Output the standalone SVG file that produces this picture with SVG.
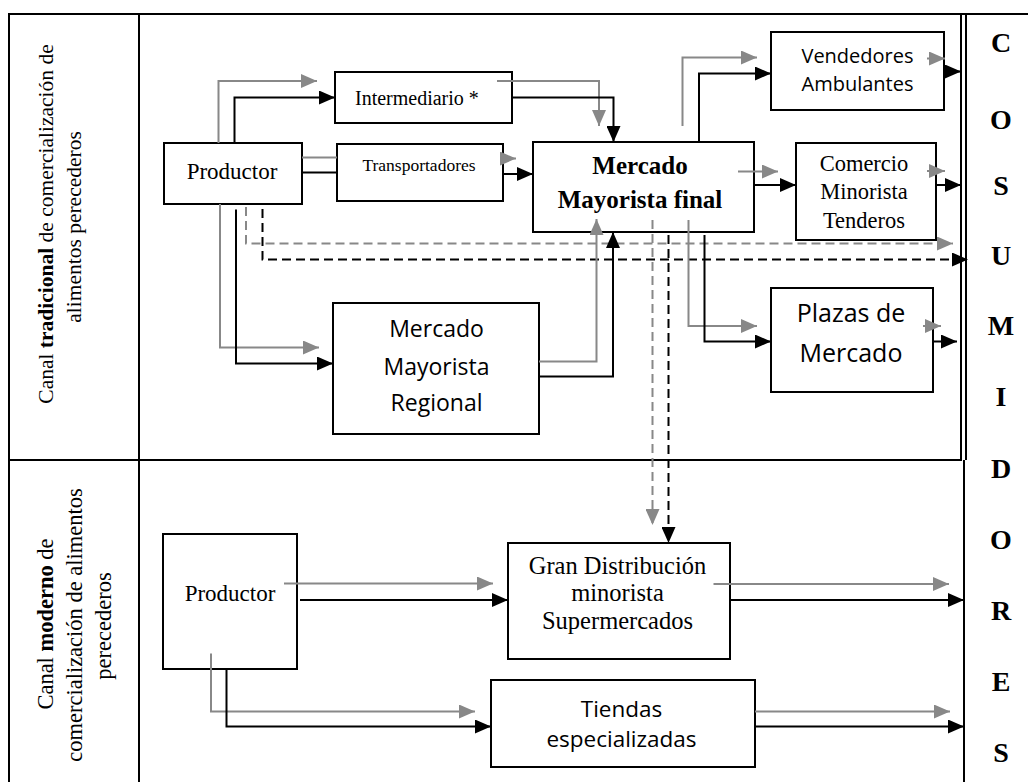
<svg xmlns="http://www.w3.org/2000/svg" width="1028" height="782" viewBox="0 0 1028 782">
  <style>
    .frame { stroke: #000; stroke-width: 2; fill: none; }
    .box { fill: #fff; stroke: #000; stroke-width: 2; }
    .serif { font-family: "Liberation Serif", "Times New Roman", serif; fill: #000; }
    .sans { font-family: "Open Sans", "Liberation Sans", sans-serif; fill: #000; }
    .mid { text-anchor: middle; }
    .blk { stroke: #000; stroke-width: 2; fill: none; marker-end: url(#arrBlack); }
    .gry { stroke: #888; stroke-width: 2; fill: none; marker-end: url(#arrGray); }
    .plainBlk { stroke: #000; stroke-width: 2; fill: none; }
    .plainGry { stroke: #888; stroke-width: 2; fill: none; }
    .dash { stroke-dasharray: 9 5; }
    .cons { font-family: "Liberation Serif", "Times New Roman", serif; font-weight: bold; font-size: 28px; text-anchor: middle; }
  </style>
  <defs>
    <marker id="arrBlack" markerUnits="userSpaceOnUse" markerWidth="16" markerHeight="14" refX="16" refY="7" orient="auto">
      <path d="M0,0 L16,7 L0,14 z" fill="#000"/>
    </marker>
    <marker id="arrGray" markerUnits="userSpaceOnUse" markerWidth="16" markerHeight="14" refX="16" refY="7" orient="auto">
      <path d="M0,0 L16,7 L0,14 z" fill="#888"/>
    </marker>
  </defs>

  <rect width="1028" height="782" fill="#fff"/>

  <!-- table frame -->
  <g id="frame">
    <path class="frame" d="M9,782 V14 H1028"/>
    <path class="frame" d="M139,14 V782"/>
    <path class="frame" d="M9,460 H962"/>
    <path class="frame" d="M961,14 V460" stroke-width="1.5"/>
    <path class="frame" d="M966,14 V460" stroke-width="1.5"/>
    <path class="frame" d="M964,460 V782" stroke-width="3"/>
  </g>

  <!-- row labels -->
  <g id="label-tradicional" class="serif mid" font-size="21.5">
    <text transform="translate(53,224) rotate(-90)">Canal <tspan font-weight="bold">tradicional</tspan> de comercialización de</text>
    <text transform="translate(81,227) rotate(-90)">alimentos perecederos</text>
  </g>
  <g id="label-moderno" class="serif mid" font-size="22.5">
    <text transform="translate(53,624) rotate(-90)">Canal <tspan font-weight="bold">moderno</tspan> de</text>
    <text transform="translate(82,625) rotate(-90)">comercialización de alimentos</text>
    <text transform="translate(111,626) rotate(-90)">perecederos</text>
  </g>

  <!-- consumers column -->
  <g id="consumidores" class="cons">
    <text x="1001" y="52">C</text>
    <text x="1001" y="129">O</text>
    <text x="1001" y="195">S</text>
    <text x="1001" y="265">U</text>
    <text x="1001" y="335">M</text>
    <text x="1001" y="406">I</text>
    <text x="1001" y="478">D</text>
    <text x="1001" y="549">O</text>
    <text x="1001" y="620">R</text>
    <text x="1001" y="691">E</text>
    <text x="1001" y="762">S</text>
  </g>

  <!-- traditional channel nodes -->
  <g id="productor-tradicional">
    <rect class="box" x="164" y="143" width="138" height="61"/>
    <text class="serif mid" x="232" y="179" font-size="23">Productor</text>
  </g>
  <g id="intermediario">
    <rect class="box" x="335" y="72" width="177" height="51"/>
    <text class="serif" x="355" y="105" font-size="20">Intermediario *</text>
  </g>
  <g id="transportadores">
    <rect class="box" x="337" y="144" width="166" height="57"/>
    <text class="serif mid" x="419" y="171" font-size="17.5">Transportadores</text>
  </g>
  <g id="mercado-mayorista-final">
    <rect class="box" x="533" y="142" width="221" height="90"/>
    <text class="serif mid" x="640" y="174" font-size="25" font-weight="bold">Mercado</text>
    <text class="serif mid" x="640" y="208" font-size="25" font-weight="bold">Mayorista final</text>
  </g>
  <g id="vendedores-ambulantes">
    <rect class="box" x="771" y="32" width="173" height="78"/>
    <text class="sans mid" x="857.5" y="63" font-size="20">Vendedores</text>
    <text class="sans mid" x="857.5" y="91" font-size="20">Ambulantes</text>
  </g>
  <g id="comercio-minorista">
    <rect class="box" x="796" y="143" width="140" height="97"/>
    <text class="serif mid" x="864" y="171" font-size="22.5">Comercio</text>
    <text class="serif mid" x="864" y="199" font-size="22.5">Minorista</text>
    <text class="serif mid" x="864" y="228" font-size="22.5">Tenderos</text>
  </g>
  <g id="plazas-de-mercado">
    <rect class="box" x="771" y="288" width="162" height="104"/>
    <text class="sans mid" x="851" y="322" font-size="25">Plazas de</text>
    <text class="sans mid" x="851" y="362" font-size="25">Mercado</text>
  </g>
  <g id="mercado-mayorista-regional">
    <rect class="box" x="333" y="303" width="206" height="131"/>
    <text class="sans mid" x="436.5" y="337" font-size="23">Mercado</text>
    <text class="sans mid" x="436.5" y="375" font-size="23">Mayorista</text>
    <text class="sans mid" x="436.5" y="411" font-size="23">Regional</text>
  </g>

  <!-- modern channel nodes -->
  <g id="productor-moderno">
    <rect class="box" x="163" y="534" width="134" height="135"/>
    <text class="serif mid" x="230" y="601" font-size="23">Productor</text>
  </g>
  <g id="gran-distribucion">
    <rect class="box" x="508" y="543" width="222" height="116"/>
    <text class="serif mid" x="617.5" y="574" font-size="24.5">Gran Distribución</text>
    <text class="serif mid" x="617.5" y="601" font-size="24.5">minorista</text>
    <text class="serif mid" x="617.5" y="629" font-size="24.5">Supermercados</text>
  </g>
  <g id="tiendas-especializadas">
    <rect class="box" x="491" y="680" width="264" height="87"/>
    <text class="sans mid" x="621.5" y="717" font-size="22.5">Tiendas</text>
    <text class="sans mid" x="621.5" y="747" font-size="22.5">especializadas</text>
  </g>

  <!-- connectors -->
  <g id="connectors">
    <!-- Productor -> Intermediario -->
    <path class="gry" d="M218.5,143 V81 H317"/>
    <path class="blk" d="M234.5,143 V97.5 H335"/>
    <!-- Productor -> Transportadores -->
    <path class="plainGry" d="M302,157.5 H337"/>
    <path class="plainBlk" d="M302,172.5 H337"/>
    <!-- Transportadores -> Mercado final -->
    <path class="gry" d="M503,158.5 H516"/>
    <path class="blk" d="M503,174 H533"/>
    <!-- Intermediario -> Mercado final -->
    <path class="gry" d="M497,81 H599 V126"/>
    <path class="blk" d="M512,97.5 H613.5 V142"/>
    <!-- Mercado final -> Vendedores -->
    <path class="gry" d="M682.5,126 V57.5 H757"/>
    <path class="blk" d="M699,142 V73.5 H771"/>
    <!-- Vendedores -> consumidores -->
    <path class="gry" d="M927,58.5 H945"/>
    <path class="blk" d="M944,71.5 H961"/>
    <!-- Mercado final -> Comercio -->
    <path class="gry" d="M738,171.5 H778"/>
    <path class="blk" d="M754,185 H796"/>
    <!-- Comercio -> consumidores -->
    <path class="gry" d="M927,171 H945"/>
    <path class="blk" d="M936,185 H961"/>
    <!-- Productor -> consumidores (direct, dashed) -->
    <path class="gry dash" d="M246,207 V243.5 H953"/>
    <path class="blk dash" d="M262.5,209 V259.5 H968"/>
    <!-- Productor -> Mercado Regional -->
    <path class="gry" d="M220,204 V347.5 H319"/>
    <path class="blk" d="M236,209.5 V363.5 H333"/>
    <!-- Mercado Regional -> Mercado final -->
    <path class="gry" d="M539,361.5 H596.5 V219"/>
    <path class="blk" d="M539,376.5 H613 V232"/>
    <!-- Mercado final -> Plazas -->
    <path class="gry" d="M688.5,220 V326 H757"/>
    <path class="blk" d="M704.5,235 V341.5 H771"/>
    <!-- Plazas -> consumidores -->
    <path class="gry" d="M923,326 H941"/>
    <path class="blk" d="M933,341.5 H957"/>
    <!-- Mercado final -> Gran Distribucion (dashed) -->
    <path class="gry dash" d="M652.5,220 V525"/>
    <path class="blk dash" d="M668.5,235 V543"/>
    <!-- Productor (moderno) -> Gran Distribucion -->
    <path class="gry" d="M284,583.5 H493"/>
    <path class="blk" d="M300,600 H508"/>
    <!-- Productor (moderno) -> Tiendas -->
    <path class="gry" d="M211,653.5 V711.5 H475"/>
    <path class="blk" d="M226.5,669 V726.5 H491"/>
    <!-- Gran Distribucion -> consumidores -->
    <path class="gry" d="M713.5,584 H949"/>
    <path class="blk" d="M730,600 H964"/>
    <!-- Tiendas -> consumidores -->
    <path class="gry" d="M755,711.5 H950"/>
    <path class="blk" d="M755,726.5 H964"/>
  </g>
</svg>
